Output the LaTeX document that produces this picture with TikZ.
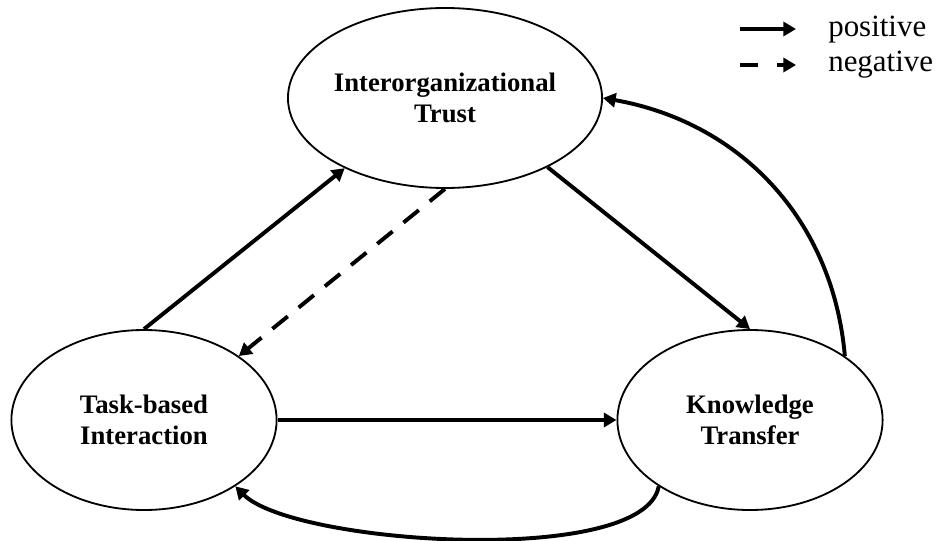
\documentclass[tikz,border=0pt]{standalone}
\usepackage{fontspec}
\setmainfont{Liberation Serif}
\usetikzlibrary{shapes.geometric}
\usetikzlibrary{arrows.meta}

\begin{document}
\begin{tikzpicture}[
construct/.style={ellipse,draw=black,line width=1.3pt,minimum width=6.63cm,minimum height=4.5cm,inner sep=0pt,align=center,font=\fontsize{19}{22}\selectfont\bfseries},
posarrow/.style={line width=2.8pt,-{Triangle[length=9pt,width=10pt]}},
negarrow/.style={posarrow,dash pattern=on 14pt off 10pt},
legendtext/.style={font=\fontsize{22}{26}\selectfont,anchor=base west,inner sep=0pt}]
\useasboundingbox (0,0) rectangle (23.45,13.5);
\node[construct] (trust) at (11.125,11.05) {Interorganizational\\Trust};
\node[construct] (task) at (3.6,3.0) {Task-based\\Interaction};
\node[construct] (know) at (18.75,3.0) {Knowledge\\Transfer};

\draw[posarrow] (task.north) -- (trust.215);
\draw[negarrow] (trust.south) -- (task.34);
\draw[posarrow] (trust.-34) -- (know.north);
\draw[posarrow] (task.east) -- (know.west);
\draw[posarrow] (know.34) to[out=95,in=-10] (trust.east);
\draw[posarrow] (know.216) to[out=-100,in=-45,looseness=0.5] (task.-36);

\node[legendtext] (postext) at (20.7,12.575) {positive};
\node[legendtext] (negtext) at (20.7,11.7) {negative};
\coordinate (posa) at (18.5,12.775);
\coordinate (posb) at (19.9,12.775);
\coordinate (nega) at (18.5,11.875);
\coordinate (negb) at (19.9,11.875);
\draw[posarrow] (posa) -- (posb);
\draw[negarrow,dash pattern=on 13pt off 13pt] (nega) -- (negb);
\end{tikzpicture}
\end{document}
